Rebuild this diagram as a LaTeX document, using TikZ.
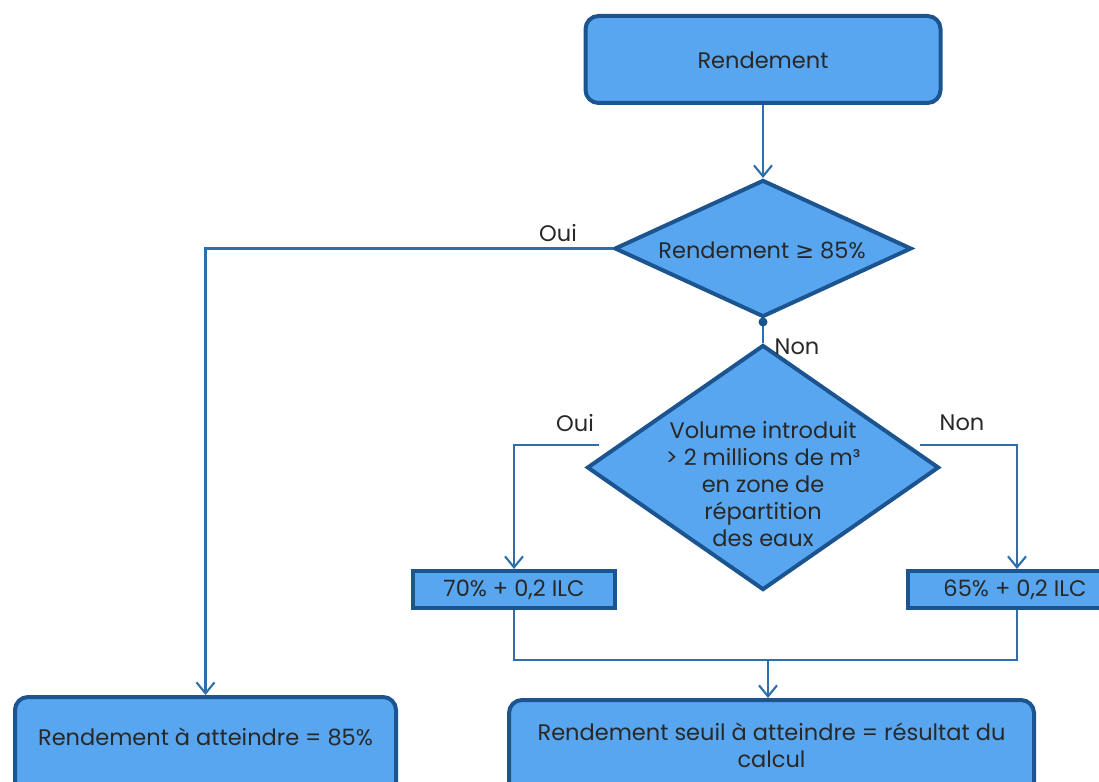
\documentclass[tikz,border=0pt]{standalone}
\usepackage{fontspec}
\setmainfont{Poppins}
\newfontfamily\symf{DejaVu Sans}
\usetikzlibrary{shapes.geometric,arrows.meta}
\definecolor{fillblue}{RGB}{88,166,240}
\definecolor{borderblue}{RGB}{28,84,144}
\definecolor{lineblue}{RGB}{46,110,170}
\definecolor{txtgray}{RGB}{40,40,40}
\tikzset{
  x=1pt,y=-1pt,
  roundbox/.style={draw=borderblue,fill=fillblue,line width=4pt,rounded corners=13pt,inner sep=0pt},
  flatbox/.style={draw=borderblue,fill=fillblue,line width=4pt,inner sep=0pt},
  decision/.style={diamond,draw=borderblue,fill=fillblue,line width=4pt,inner sep=0pt,aspect=1},
  txt/.style={font=\fontsize{22.5}{27}\selectfont,text=txtgray,align=center,inner sep=0pt},
  lbl/.style={font=\fontsize{22.5}{24}\selectfont,text=txtgray,inner sep=0pt},
  conn/.style={draw=lineblue,line width=2.1pt},
  arr/.style={conn,-{Straight Barb[length=11pt,width=18pt,line width=2.1pt]}},
}
\begin{document}
\begin{tikzpicture}
\clip (0,0) rectangle (1099,781);
\fill[white] (0,0) rectangle (1099,781);
% nodes
\node[roundbox,minimum width=355pt,minimum height=87pt] (top) at (763,59.5) {};
\node[txt] (toptxt) at (763,60) {Rendement};
\node[decision,minimum width=297pt,minimum height=137pt] (d1) at (763,248.5) {};
\node[txt] (d1txt) at (762,250) {Rendement {\symf ≥} 85\%};
\coordinate (dot) at (763,322);
\node[decision,minimum width=352pt,minimum height=245pt] (d2) at (763,467.5) {};
\node[txt] (d2txt) at (763,484) {Volume introduit\\> 2 millions de m³\\en zone de\\répartition\\des eaux};
\node[flatbox,minimum width=202pt,minimum height=37pt] (b70) at (514,589.5) {};
\node[txt] (b70txt) at (514,590) {70\% + 0,2 ILC};
\node[flatbox,minimum width=218pt,minimum height=37pt] (b65) at (1017,589.5) {};
\node[txt] (b65txt) at (1015,590) {65\% + 0,2 ILC};
\node[roundbox,minimum width=381pt,minimum height=100pt] (bl) at (205.5,747) {};
\node[txt] (bltxt) at (205.5,737) {Rendement à atteindre = 85\%};
\node[roundbox,minimum width=525pt,minimum height=100pt] (br) at (771.5,750) {};
\node[txt] (brtxt) at (771.5,745) {Rendement seuil à atteindre = résultat du\\calcul};
% labels
\node[lbl] (oui1) at (558,233) {Oui};
\node[lbl] (non1) at (797,347) {Non};
\node[lbl] (oui2) at (575,423) {Oui};
\node[lbl] (non2) at (962,423) {Non};
% connectors
\coordinate (ls) at (599,445);
\coordinate (rs) at (920,445);
\coordinate (j) at (768,660);
\draw[arr] (top.south) -- (d1.north);
\draw[arr] (d1.west) -| (bl.north);
\draw[conn] (d1.south) -- (dot) -- (d2.north);
\draw[arr] (ls) -| (b70.north);
\draw[arr] (rs) -| (b65.north);
\draw[conn] (b70.south) |- (j);
\draw[conn] (b65.south) |- (j);
\draw[arr] (j) -- (j |- br.north);
\fill[borderblue] (dot) circle (4.5pt);
\end{tikzpicture}
\end{document}
